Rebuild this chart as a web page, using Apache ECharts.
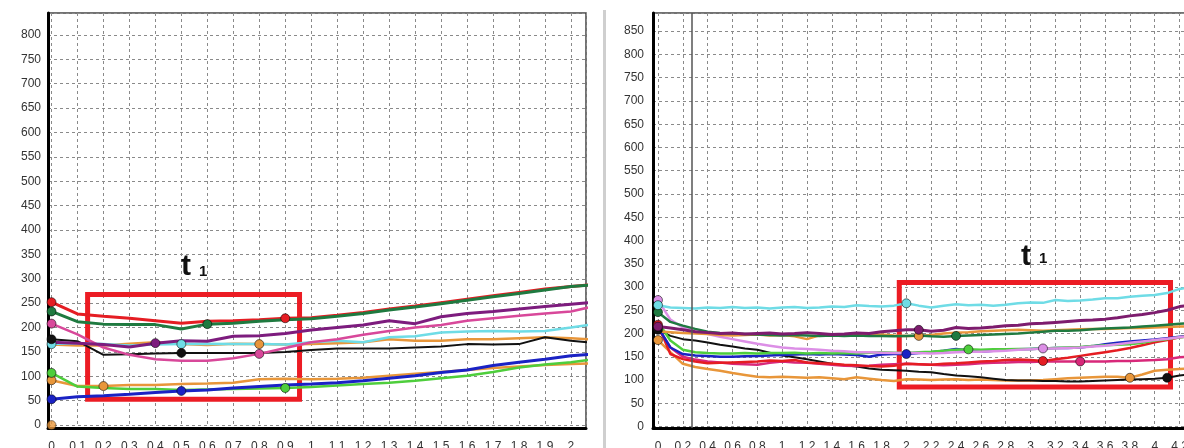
<!DOCTYPE html>
<html>
<head>
<meta charset="utf-8">
<script src="https://cdn.jsdelivr.net/npm/echarts@6/dist/echarts.min.js"></script>
<style>
  html, body { margin: 0; padding: 0; background: #fff; }
  #chart { width: 1184px; height: 448px; }
</style>
</head>
<body>
<div id="chart"></div>
<script>
// ---- left panel data (x every 0.1) ----
const leftX = [0, 0.1, 0.2, 0.3, 0.4, 0.5, 0.6, 0.7, 0.8, 0.9, 1, 1.1, 1.2, 1.3, 1.4, 1.5, 1.6, 1.7, 1.8, 1.9, 2, 2.1];
const leftRed      = [252, 228, 223, 219, 214, 209, 213, 214, 216, 219, 220, 225, 231, 238, 244, 251, 258, 265, 272, 279, 284, 289];
const leftDkGreen  = [233, 212, 207, 206, 206, 197, 207, 209, 213, 216, 218, 223, 229, 236, 242, 249, 256, 263, 270, 277, 284, 288];
const leftPurple   = [170, 168, 165, 160, 168, 173, 172, 182, 183, 188, 195, 200, 205, 214, 208, 222, 229, 233, 238, 243, 248, 252];
const leftPink     = [208, 186, 159, 144, 135, 132, 132, 137, 146, 158, 170, 176, 185, 193, 200, 205, 214, 219, 224, 229, 233, 245];
const leftCyan     = [166, 168, 166, 163, 165, 166, 167, 166, 166, 165, 170, 173, 170, 180, 182, 190, 192, 193, 192, 193, 200, 208];
const leftOrangeUp = [165, 163, 163, 167, 170, 166, 164, 167, 166, 165, 166, 168, 170, 176, 173, 173, 176, 176, 178, 180, 178, 175];
const leftBlack    = [176, 172, 144, 145, 147, 148, 148, 148, 148, 150, 154, 157, 157, 157, 159, 161, 166, 165, 166, 180, 173, 168];
const leftLtGreen  = [107, 79, 76, 74, 74, 72, 73, 74, 75, 76, 78, 81, 84, 87, 91, 96, 101, 109, 118, 124, 129, 136];
const leftOrangeLo = [92, 80, 80, 82, 82, 84, 85, 87, 94, 95, 94, 95, 97, 101, 105, 109, 113, 117, 120, 123, 125, 127];
const leftBlue     = [53, 58, 60, 63, 67, 70, 72, 76, 79, 82, 84, 87, 91, 96, 101, 108, 113, 122, 129, 135, 142, 146];
const leftOrigin   = [[0, 0]];   // lone orange dot on the axis

// ---- right panel data (x every 0.1) ----
const rightX = [0, 0.1, 0.2, 0.3, 0.4, 0.5, 0.6, 0.7, 0.8, 0.9, 1, 1.1, 1.2, 1.3, 1.4, 1.5, 1.6, 1.7, 1.8, 1.9,
  2, 2.1, 2.2, 2.3, 2.4, 2.5, 2.6, 2.7, 2.8, 2.9, 3, 3.1, 3.2, 3.3, 3.4, 3.5, 3.6, 3.7, 3.8, 3.9, 4, 4.1, 4.2, 4.3];
const rightCyan = [261, 256, 255, 254, 256, 255, 257, 255, 256, 254, 256, 257, 255, 256, 258, 257, 261, 259, 258, 260,
  265, 260, 256, 260, 263, 261, 262, 260, 262, 265, 267, 266, 272, 270, 271, 273, 276, 276, 279, 281, 283, 287, 296, 300];
const rightPlum = [272, 230, 213, 205, 199, 193, 188, 183, 178, 174, 170, 168, 167, 165, 163, 162, 160, 160, 159, 158,
  158, 158, 157, 158, 160, 161, 161, 162, 163, 165, 166, 168, 168, 169, 170, 172, 174, 177, 180, 183, 186, 189, 192, 195];
const rightPurple = [215, 212, 208, 204, 202, 200, 201, 199, 200, 201, 199, 200, 202, 200, 198, 199, 201, 200, 204, 206,
  208, 208, 205, 207, 213, 211, 212, 214, 217, 218, 221, 222, 224, 226, 228, 229, 231, 234, 238, 241, 245, 250, 258, 262];
const rightDkGreen = [246, 225, 217, 210, 204, 201, 200, 199, 198, 197, 196, 197, 196, 195, 196, 195, 196, 195, 195, 194,
  195, 196, 194, 193, 195, 196, 197, 198, 199, 200, 202, 204, 206, 206, 207, 209, 211, 212, 213, 215, 217, 219, 221, 222];
const rightOrangeUp = [205, 203, 201, 200, 199, 197, 196, 197, 198, 196, 197, 194, 188, 196, 198, 197, 199, 198, 198, 196,
  195, 195, 197, 200, 202, 203, 205, 206, 207, 208, 207, 206, 207, 208, 209, 210, 210, 211, 212, 212, 213, 214, 215, 216];
const rightOrangeLo = [186, 160, 135, 128, 124, 120, 115, 111, 107, 106, 107, 106, 105, 106, 104, 102, 106, 103, 100, 98,
  102, 101, 100, 101, 102, 100, 101, 100, 99, 99, 99, 100, 102, 104, 105, 106, 107, 107, 105, 112, 120, 122, 124, 125];
const rightBlack = [208, 195, 188, 185, 181, 176, 172, 168, 165, 159, 153, 149, 145, 140, 135, 132, 129, 125, 122, 121,
  120, 118, 117, 113, 110, 108, 106, 103, 100, 99, 99, 98, 98, 97, 97, 98, 99, 100, 101, 102, 103, 105, 110, 112];
const rightRed = [219, 156, 145, 140, 136, 137, 138, 139, 140, 142, 141, 143, 138, 136, 135, 133, 132, 130, 129, 131,
  135, 134, 133, 135, 136, 138, 140, 141, 143, 144, 143, 141, 145, 148, 152, 156, 160, 164, 169, 175, 181, 186, 192, 196];
const rightCrimson = [212, 170, 150, 144, 140, 138, 135, 134, 133, 137, 140, 138, 137, 135, 133, 131, 130, 131, 133, 134,
  135, 134, 133, 132, 133, 134, 136, 137, 138, 139, 139, 140, 140, 140, 140, 140, 140, 141, 141, 142, 143, 145, 149, 151];
const rightBlue = [214, 170, 156, 153, 152, 150, 150, 151, 152, 153, 154, 155, 156, 155, 156, 155, 154, 150, 155, 156,
  156, 158, 160, 163, 167, 164, 161, 163, 165, 166, 167, 168, 169, 169, 170, 173, 177, 180, 183, 185, 187, 190, 193, 195];
const rightLtGreen = [225, 185, 165, 160, 158, 157, 157, 158, 157, 158, 158, 159, 157, 158, 157, 158, 157, 159, 160, 159,
  158, 160, 161, 163, 165, 166, 165, 166, 166, 167, 167, 168, 169, 170, 171, 173, 175, 176, 177, 180, 185, 188, 192, 194];

// annotations: boxes [x1, y1, x2, y2] in data units, cursor x
const leftBox = [0.139, 268, 0.955, 53];
const rightBox = [1.943, 310, 4.127, 85];
const rightCursor = 0.266;

const chart = echarts.init(document.getElementById('chart'));

function line(gi, xs, ys, color, width, markAt) {
  return {
    type: 'line',
    xAxisIndex: gi,
    yAxisIndex: gi,
    symbol: 'none',
    showSymbol: true,
    showAllSymbol: true,
    lineStyle: { color: color, width: width },
    itemStyle: { color: color },
    data: ys.map(function (y, i) {
      const hit = markAt.some(function (m) { return Math.abs(m - xs[i]) < 1e-6; });
      if (!hit) return [xs[i], y];
      return {
        value: [xs[i], y],
        symbol: 'circle',
        symbolSize: 9,
        itemStyle: { color: color, borderColor: 'rgba(0,0,0,0.55)', borderWidth: 1 }
      };
    })
  };
}

function gridLabel(step) {
  return function (v) {
    const k = v / step;
    if (Math.abs(k - Math.round(k)) > 1e-6 || v < -1e-9) return '';
    return String(+v.toFixed(1));
  };
}

const dash = { show: true, lineStyle: { color: '#8a8a8a', width: 1, type: [3, 3] } };
const lbl = { color: '#333', fontSize: 12, fontFamily: 'Liberation Sans, Arial' };

function xAx(gi, min, max, split, step) {
  return {
    type: 'value', gridIndex: gi, min: min, max: max, splitNumber: split,
    axisLine: { show: true, onZero: false, lineStyle: { color: '#000', width: 3 } },
    axisTick: { show: false },
    axisLabel: Object.assign({ margin: 13, formatter: gridLabel(step), showMinLabel: true, showMaxLabel: true }, lbl),
    splitLine: dash
  };
}
function yAx(gi, min, max, split, margin) {
  return {
    type: 'value', gridIndex: gi, min: min, max: max, splitNumber: split,
    axisLine: { show: true, onZero: false, lineStyle: { color: '#000', width: 3 } },
    axisTick: { show: false },
    axisLabel: Object.assign({ margin: margin, formatter: gridLabel(50) }, lbl),
    splitLine: dash
  };
}

function boxArea(gi, b) {
  return {
    type: 'line', xAxisIndex: gi, yAxisIndex: gi, data: [], z: 5,
    markArea: {
      silent: true,
      itemStyle: { color: 'rgba(0,0,0,0)', borderColor: '#ec1c24', borderWidth: 5 },
      data: [[{ coord: [b[0], b[1]] }, { coord: [b[2], b[3]] }]]
    }
  };
}

const series = [
  line(0, leftX, leftOrangeUp, '#e8963a', 2.5, [0.8]),
  line(0, leftX, leftCyan, '#6fdce6', 2.5, [0, 0.5]),
  line(0, leftX, leftBlack, '#111111', 2, [0, 0.5]),
  line(0, leftX, leftPink, '#d8489a', 2.5, [0, 0.8]),
  line(0, leftX, leftPurple, '#7d1c7e', 3, [0.4]),
  line(0, leftX, leftRed, '#e51d23', 3, [0, 0.9]),
  line(0, leftX, leftDkGreen, '#1f7a40', 3, [0, 0.6]),
  line(0, leftX, leftOrangeLo, '#e8963a', 2.5, [0, 0.2]),
  line(0, leftX, leftLtGreen, '#4ece3c', 2.5, [0, 0.9]),
  line(0, leftX, leftBlue, '#1a22c4', 3, [0, 0.5]),
  {
    type: 'scatter', xAxisIndex: 0, yAxisIndex: 0, symbolSize: 9, data: leftOrigin,
    itemStyle: { color: '#e8963a', borderColor: 'rgba(0,0,0,0.55)', borderWidth: 1 }
  },
  line(1, rightX, rightOrangeLo, '#e8963a', 2.5, [0, 3.8]),
  line(1, rightX, rightBlack, '#111111', 2, [0, 4.1]),
  line(1, rightX, rightCrimson, '#d8287a', 2.5, [3.4]),
  line(1, rightX, rightRed, '#e51d23', 2.5, [0, 3.1]),
  line(1, rightX, rightBlue, '#1a22c4', 2.5, [2]),
  line(1, rightX, rightLtGreen, '#4ece3c', 2.5, [2.5]),
  line(1, rightX, rightPlum, '#dc8fe6', 2.5, [0, 3.1]),
  line(1, rightX, rightOrangeUp, '#e8963a', 2.5, [2.1]),
  line(1, rightX, rightDkGreen, '#1f7a40', 2.5, [0, 2.4]),
  line(1, rightX, rightPurple, '#7d1c6e', 3, [0, 2.1]),
  line(1, rightX, rightCyan, '#6fdce6', 2.5, [0, 2]),
  boxArea(0, leftBox),
  boxArea(1, rightBox),
  {
    type: 'line', xAxisIndex: 1, yAxisIndex: 1, data: [], z: 4,
    markLine: {
      silent: true, symbol: 'none', label: { show: false },
      lineStyle: { color: '#555', width: 1.5, type: 'solid' },
      data: [{ xAxis: rightCursor }]
    }
  }
];

chart.setOption({
  animation: false,
  backgroundColor: '#fff',
  grid: [
    { left: 48, top: 13, width: 538, height: 415, show: true, borderColor: '#444', borderWidth: 1.5,
      containLabel: false, outerBoundsMode: 'none' },
    { left: 653, top: 13, width: 539, height: 415, show: true, borderColor: '#444', borderWidth: 1.5,
      containLabel: false, outerBoundsMode: 'none' }
  ],
  xAxis: [xAx(0, -0.0135, 2.058, 21, 0.1), xAx(1, -0.04, 4.3, 22, 0.2)],
  yAxis: [yAx(0, -6, 845, 17, 7), yAx(1, -3, 889, 18, 9)],
  graphic: [
    { type: 'rect', shape: { x: 603, y: 10, width: 3, height: 438 }, style: { fill: '#cfcfcf' }, silent: true },
    { type: 'text', x: 181, y: 252, style: { text: 't', font: 'bold 30px Liberation Sans, Arial', fill: '#111' }, z: 10 },
    { type: 'text', x: 199, y: 264, style: { text: '1', font: 'bold 15px Liberation Sans, Arial', fill: '#111' }, z: 10 },
    { type: 'text', x: 1021, y: 242, style: { text: 't', font: 'bold 30px Liberation Sans, Arial', fill: '#111' }, z: 10 },
    { type: 'text', x: 1039, y: 251, style: { text: '1', font: 'bold 15px Liberation Sans, Arial', fill: '#111' }, z: 10 }
  ],
  series: series
});
</script>
</body>
</html>
